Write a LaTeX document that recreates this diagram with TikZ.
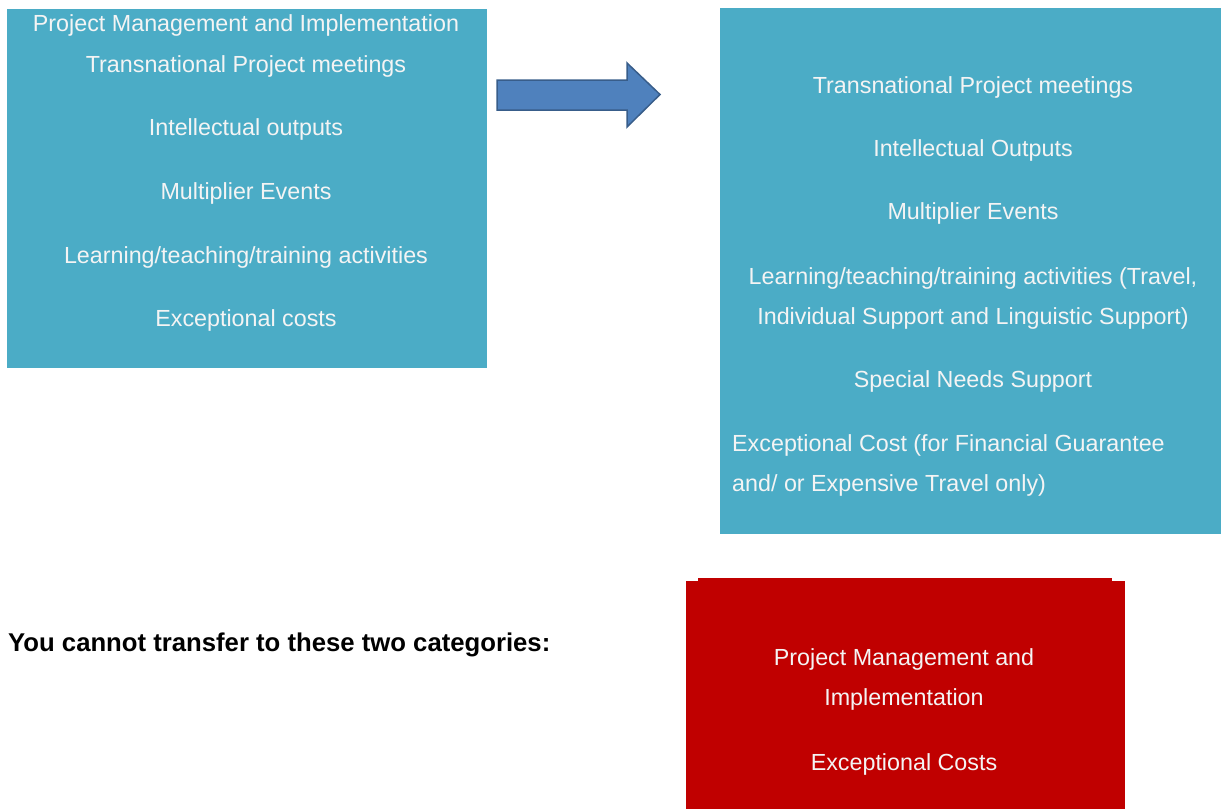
\documentclass[tikz,border=0pt]{standalone}
\usepackage{fontspec}
\setmainfont{Liberation Sans}
\definecolor{aqua}{HTML}{4BACC6}
\definecolor{arrowblue}{HTML}{4F81BD}
\definecolor{arrowedge}{HTML}{385D8A}
\definecolor{darkred}{HTML}{C00000}
\definecolor{offwhite}{HTML}{F4F4F4}
\begin{document}
\begin{tikzpicture}[x=1pt,y=-1pt,
  boxtext/.style={text=offwhite,font=\fontsize{23.3}{28}\selectfont,inner sep=0pt,text height=0.716em,text depth=0pt}]
\useasboundingbox (0,0) rectangle (1221,809);
% left box
\fill[aqua] (7,9) rectangle (487,368);
\node[boxtext] (l1) at (246,28) {Project Management and Implementation};
\node[boxtext] (l2) at (246,69) {Transnational Project meetings};
\node[boxtext] (l3) at (246,132) {Intellectual outputs};
\node[boxtext] (l4) at (246,196) {Multiplier Events};
\node[boxtext] (l5) at (246,260) {Learning/teaching/training activities};
\node[boxtext] (l6) at (246,323) {Exceptional costs};
% arrow
\filldraw[fill=arrowblue,draw=arrowedge,line width=1.5pt,line join=miter]
  (497,80) -- (627,80) -- (627,63) -- (660,94.5) -- (627,127) -- (627,110) -- (497,110) -- cycle;
% right box
\fill[aqua] (720,8) rectangle (1221,534);
\node[boxtext] (r1) at (973,90) {Transnational Project meetings};
\node[boxtext] (r2) at (973,153) {Intellectual Outputs};
\node[boxtext] (r3) at (973,216) {Multiplier Events};
\node[boxtext] (r4a) at (973,281) {Learning/teaching/training activities (Travel,};
\node[boxtext] (r4b) at (973,321) {Individual Support and Linguistic Support)};
\node[boxtext] (r5) at (973,384) {Special Needs Support};
\node[boxtext,anchor=west] (r6a) at (732,448) {Exceptional Cost (for Financial Guarantee};
\node[boxtext,anchor=west] (r6b) at (732,488) {and/ or Expensive Travel only)};
% bottom text
\node[anchor=west,inner sep=0pt,font=\bfseries\fontsize{25.7}{30}\selectfont,text height=0.716em,text depth=0pt] (note) at (8,648) {You cannot transfer to these two categories:};
% red box
\fill[darkred] (686,581) rectangle (1125,809);
\fill[darkred] (698,578) rectangle (1112,582);
\node[boxtext] (c1) at (904,662) {Project Management and};
\node[boxtext] (c2) at (904,702) {Implementation};
\node[boxtext] (c3) at (904,767) {Exceptional Costs};
\end{tikzpicture}
\end{document}
